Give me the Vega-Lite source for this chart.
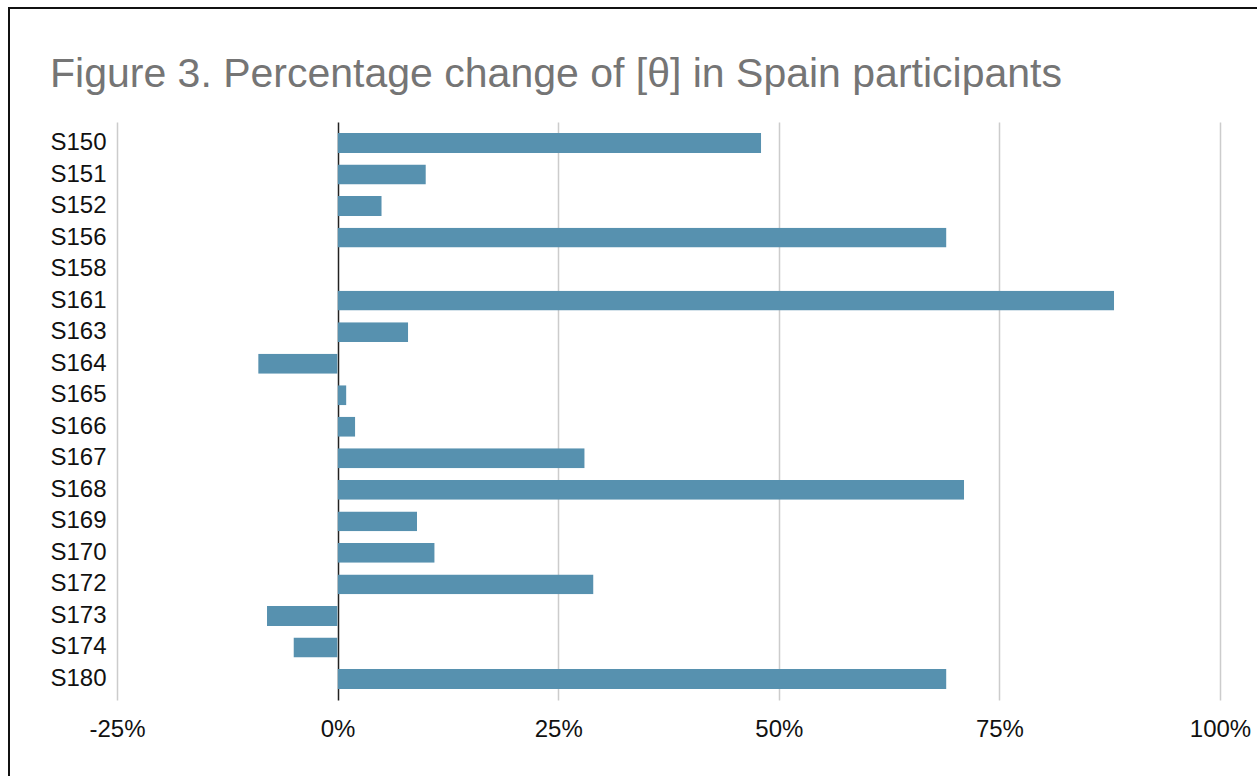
{
  "$schema": "https://vega.github.io/schema/vega-lite/v6.json",
  "autosize": {"type": "none"},
  "padding": {"left": 9, "top": 8, "right": 0, "bottom": 0},
  "width": 1300,
  "height": 806,
  "background": "white",
  "title": {
    "text": "Figure 3. Percentage change of [θ] in Spain participants",
    "anchor": "start",
    "frame": "group",
    "baseline": "alphabetic",
    "dx": 41,
    "dy": 120,
    "offset": 0,
    "font": "Liberation Sans",
    "fontSize": 41,
    "fontWeight": "normal",
    "color": "#757575"
  },
  "data": {
    "values": [
      {"participant": "S150", "change": 48},
      {"participant": "S151", "change": 10},
      {"participant": "S152", "change": 5},
      {"participant": "S156", "change": 69},
      {"participant": "S158", "change": 0},
      {"participant": "S161", "change": 88},
      {"participant": "S163", "change": 8},
      {"participant": "S164", "change": -9},
      {"participant": "S165", "change": 1},
      {"participant": "S166", "change": 2},
      {"participant": "S167", "change": 28},
      {"participant": "S168", "change": 71},
      {"participant": "S169", "change": 9},
      {"participant": "S170", "change": 11},
      {"participant": "S172", "change": 29},
      {"participant": "S173", "change": -8},
      {"participant": "S174", "change": -5},
      {"participant": "S180", "change": 69}
    ]
  },
  "mark": {
    "type": "bar",
    "color": "#5791af",
    "cornerRadiusTopRight": {"expr": "datum.change > 0 ? 3 : 0"},
    "cornerRadiusBottomRight": {"expr": "datum.change > 0 ? 3 : 0"},
    "cornerRadiusTopLeft": {"expr": "datum.change < 0 ? 3 : 0"},
    "cornerRadiusBottomLeft": {"expr": "datum.change < 0 ? 3 : 0"}
  },
  "encoding": {
    "y": {
      "field": "participant",
      "type": "nominal",
      "sort": null,
      "title": null,
      "scale": {"range": [114, 692], "paddingInner": 0.37, "paddingOuter": 0.35},
      "axis": {
        "offset": -108,
        "domain": false,
        "ticks": false,
        "grid": false,
        "labelPadding": 11,
        "labelFont": "Liberation Sans",
        "labelFontSize": 24,
        "labelColor": "#111111"
      }
    },
    "x": {
      "field": "change",
      "type": "quantitative",
      "title": null,
      "scale": {"domain": [-25, 100], "range": [108, 1211], "nice": false, "zero": false},
      "axis": {
        "values": [-25, 0, 25, 50, 75, 100],
        "labelExpr": "datum.value + '%'",
        "offset": -114,
        "domain": false,
        "ticks": false,
        "grid": true,
        "gridColor": {"condition": {"test": "datum.value === 0", "value": "#222222"}, "value": "#cccccc"},
        "gridWidth": {"condition": {"test": "datum.value === 0", "value": 1.5}, "value": 1.5},
        "labelPadding": 17,
        "labelFont": "Liberation Sans",
        "labelFontSize": 24,
        "labelColor": "#111111",
        "labelFlush": false
      }
    }
  },
  "config": {
    "view": {"stroke": "#111111", "strokeWidth": 2}
  }
}
